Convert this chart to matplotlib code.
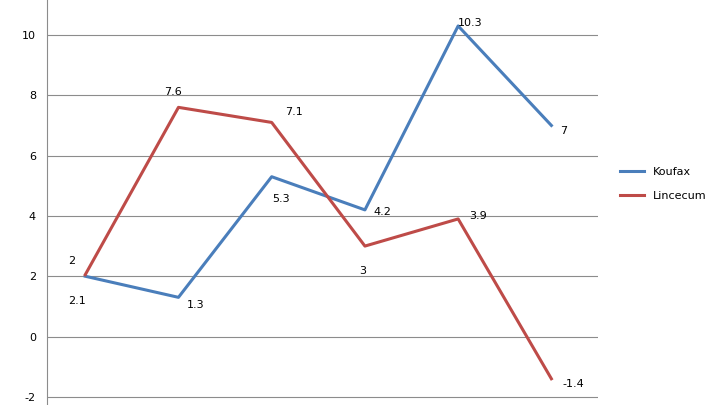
import matplotlib
matplotlib.use("Agg")
import matplotlib.pyplot as plt
plt.rcParams["axes.unicode_minus"] = False

cats = [1, 2, 3, 4, 5, 6]
koufax = [2.0, 1.3, 5.3, 4.2, 10.3, 7]
lincecum = [2.05, 7.6, 7.1, 3, 3.9, -1.4]
k_lab = ["2.1", "1.3", "5.3", "4.2", "10.3", "7"]
l_lab = ["2", "7.6", "7.1", "3", "3.9", "-1.4"]

fig = plt.figure(figsize=(7.2, 4.05), dpi=100)
ax = fig.add_axes([47/720, 0, (598-47)/720, 1])
x = list(range(len(cats)))
ax.plot(x, koufax, color="#4A7EBB", lw=2.2, label="Koufax")
ax.plot(x, lincecum, color="#BE4B48", lw=2.2, label="Lincecum")
k_off = [(-12, -20), (6, -8), (0, -18), (6, -4), (0, 0), (6, -6)]
l_off = [(-12, 8), (-10, 9), (10, 5), (-4, -20), (8, 0), (8, -6)]
for i in x:
    ax.annotate(k_lab[i], (i, koufax[i]), xytext=k_off[i], textcoords="offset points", fontsize=8)
    ax.annotate(l_lab[i], (i, lincecum[i]), xytext=l_off[i], textcoords="offset points", fontsize=8)
ax.set_xlim(-0.41, 5.5)
ax.set_ylim(-2.27, 11.16)
ax.set_yticks(range(-2, 11, 2))
ax.set_xticks([])
ax.grid(axis="y", color="#8c8c8c", lw=0.8)
ax.tick_params(axis="y", labelsize=8, length=0, pad=8)
for s in ["top", "right", "bottom"]:
    ax.spines[s].set_visible(False)
ax.spines["left"].set_color("#8c8c8c")
fig.legend(loc="center left", bbox_to_anchor=(610/720, 1-184/405), frameon=False, fontsize=8,
           handlelength=2.2, labelspacing=1.3)
fig.savefig("out.png", dpi=100)
